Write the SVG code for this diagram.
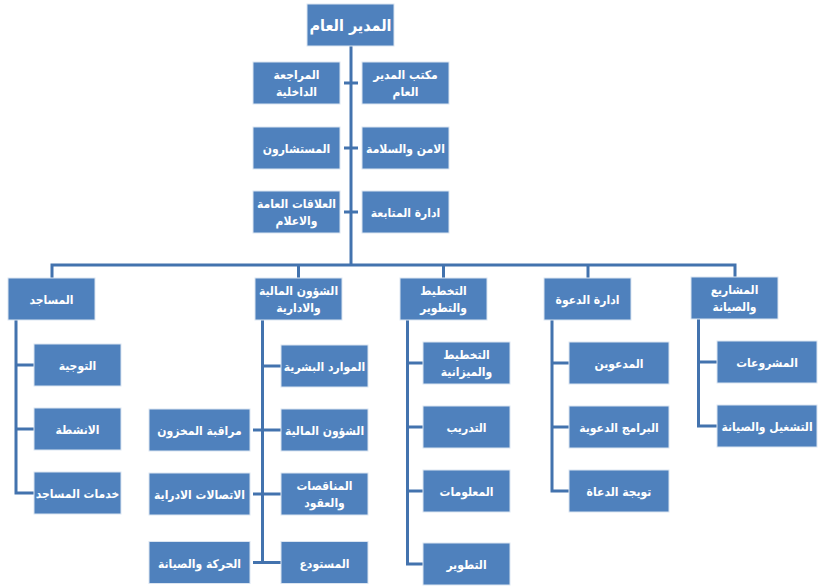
<svg xmlns="http://www.w3.org/2000/svg" width="826" height="588" viewBox="0 0 826 588">
<style>
.n rect{fill:#4f81bd;stroke:#dbe5f1;stroke-width:1}
.n text{fill:#ffffff;font-family:"DejaVu Sans Condensed","DejaVu Sans",sans-serif;font-weight:bold;font-size:12px;text-anchor:middle;direction:rtl}
.c line,.c polyline{stroke:#4373ae;stroke-width:3;fill:none}
</style>
<rect width="826" height="588" fill="#ffffff"/>
<g class="c" id="connectors">
<line x1="351" y1="46" x2="351" y2="265"/>
<line x1="344" y1="83" x2="358" y2="83"/>
<line x1="344" y1="148" x2="358" y2="148"/>
<line x1="344" y1="212" x2="358" y2="212"/>
<polyline points="52,278 52,265 735,265 735,277"/>
<line x1="298.5" y1="265" x2="298.5" y2="278"/>
<line x1="443.5" y1="265" x2="443.5" y2="278"/>
<line x1="588" y1="265" x2="588" y2="278"/>
<polyline points="16,320 16,493 34,493"/>
<line x1="16" y1="365" x2="34" y2="365"/>
<line x1="16" y1="429" x2="34" y2="429"/>
<polyline points="262.5,320 262.5,562.5 281,562.5"/>
<line x1="262.5" y1="366" x2="281" y2="366"/>
<line x1="253" y1="430" x2="281" y2="430"/>
<line x1="253" y1="494" x2="281" y2="494"/>
<line x1="253" y1="562.5" x2="262.5" y2="562.5"/>
<polyline points="407.5,320 407.5,564 423,564"/>
<line x1="407.5" y1="363" x2="423" y2="363"/>
<line x1="407.5" y1="427" x2="423" y2="427"/>
<line x1="407.5" y1="491" x2="423" y2="491"/>
<polyline points="552,320 552,491 569,491"/>
<line x1="552" y1="363" x2="569" y2="363"/>
<line x1="552" y1="427" x2="569" y2="427"/>
<polyline points="698.5,319 698.5,426 717,426"/>
<line x1="698.5" y1="362" x2="717" y2="362"/>
</g>
<g class="n" id="gm"><rect x="307" y="4" width="87" height="42"/><text x="350.5" y="31" style="font-size:16px">المدير العام</text></g>
<g class="n" id="office"><rect x="362" y="62" width="87" height="42"/><text x="405.5" y="79">مكتب المدير</text><text x="405.5" y="96">العام</text></g>
<g class="n" id="audit"><rect x="253" y="62" width="87" height="42"/><text x="296.5" y="79">المراجعة</text><text x="296.5" y="96">الداخلية</text></g>
<g class="n" id="security"><rect x="362" y="127" width="87" height="42"/><text x="405.5" y="153">الامن والسلامة</text></g>
<g class="n" id="advisors"><rect x="253" y="127" width="87" height="42"/><text x="296.5" y="153">المستشارون</text></g>
<g class="n" id="followup"><rect x="362" y="191" width="87" height="42"/><text x="405.5" y="217">ادارة المتابعة</text></g>
<g class="n" id="pr"><rect x="253" y="191" width="87" height="42"/><text x="296.5" y="208">العلاقات العامة</text><text x="296.5" y="225">والاعلام</text></g>
<g class="n" id="mosques"><rect x="8" y="278" width="87" height="42"/><text x="51.5" y="304">المساجد</text></g>
<g class="n" id="finadmin"><rect x="255" y="278" width="87" height="42"/><text x="298.5" y="295">الشؤون المالية</text><text x="298.5" y="312">والادارية</text></g>
<g class="n" id="planning"><rect x="400" y="278" width="87" height="42"/><text x="443.5" y="295">التخطيط</text><text x="443.5" y="312">والتطوير</text></g>
<g class="n" id="dawah"><rect x="544" y="278" width="87" height="42"/><text x="587.5" y="304">ادارة الدعوة</text></g>
<g class="n" id="projects"><rect x="691" y="277" width="87" height="42"/><text x="734.5" y="294">المشاريع</text><text x="734.5" y="311">والصيانة</text></g>
<g class="n" id="guidance"><rect x="34" y="344" width="87" height="42"/><text x="77.5" y="370">التوجية</text></g>
<g class="n" id="activities"><rect x="34" y="408" width="87" height="42"/><text x="77.5" y="434">الانشطة</text></g>
<g class="n" id="mosqueservices"><rect x="34" y="472" width="87" height="42"/><text x="77.5" y="498">خدمات المساجد</text></g>
<g class="n" id="hr"><rect x="281" y="345" width="87" height="42"/><text x="324.5" y="371">الموارد البشرية</text></g>
<g class="n" id="finance"><rect x="281" y="409" width="87" height="42"/><text x="324.5" y="435">الشؤون المالية</text></g>
<g class="n" id="tenders"><rect x="281" y="473" width="87" height="42"/><text x="324.5" y="490">المناقصات</text><text x="324.5" y="507">والعقود</text></g>
<g class="n" id="warehouse"><rect x="281" y="541.5" width="87" height="42"/><text x="324.5" y="567.5">المستودع</text></g>
<g class="n" id="inventory"><rect x="149" y="409" width="101" height="42"/><text x="199.5" y="435">مراقبة المخزون</text></g>
<g class="n" id="comms"><rect x="149" y="473" width="101" height="42"/><text x="199.5" y="499">الاتصالات الادراية</text></g>
<g class="n" id="transport"><rect x="149" y="541.5" width="101" height="42"/><text x="199.5" y="567.5">الحركة والصيانة</text></g>
<g class="n" id="budget"><rect x="423" y="342" width="87" height="42"/><text x="466.5" y="359">التخطيط</text><text x="466.5" y="376">والميزانية</text></g>
<g class="n" id="training"><rect x="423" y="406" width="87" height="42"/><text x="466.5" y="432">التدريب</text></g>
<g class="n" id="info"><rect x="423" y="470" width="87" height="42"/><text x="466.5" y="496">المعلومات</text></g>
<g class="n" id="development"><rect x="423" y="543" width="87" height="42"/><text x="466.5" y="569">التطوير</text></g>
<g class="n" id="preachersinvited"><rect x="569" y="342" width="100" height="42"/><text x="619" y="368">المدعوين</text></g>
<g class="n" id="programs"><rect x="569" y="406" width="100" height="42"/><text x="619" y="432">البرامج الدعوية</text></g>
<g class="n" id="preachers"><rect x="569" y="470" width="100" height="42"/><text x="619" y="496">تويجة الدعاة</text></g>
<g class="n" id="projectsub"><rect x="717" y="341" width="100" height="42"/><text x="767" y="367">المشروعات</text></g>
<g class="n" id="operation"><rect x="717" y="405" width="100" height="42"/><text x="767" y="431">التشغيل والصيانة</text></g>
</svg>
